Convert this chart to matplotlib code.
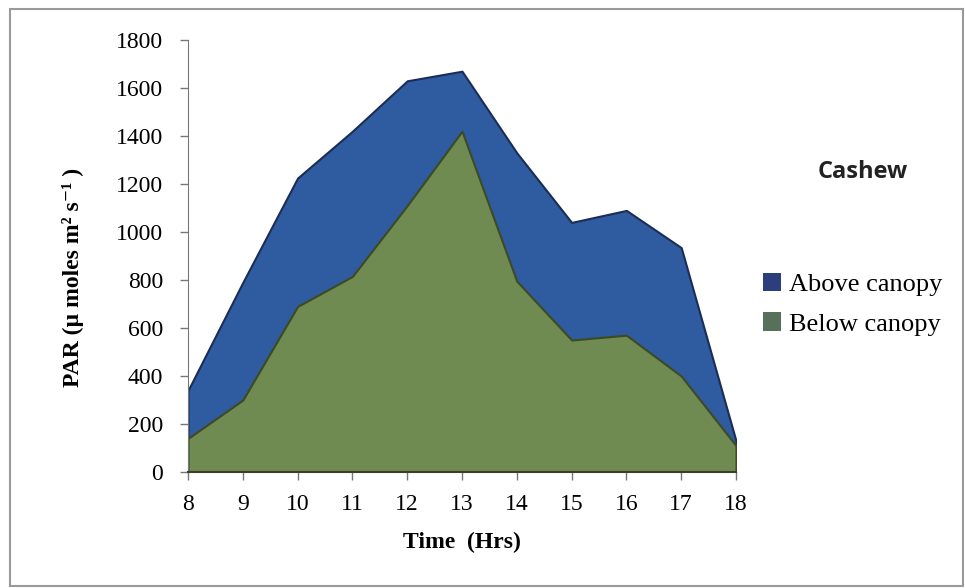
import numpy as np
import matplotlib.pyplot as plt
from matplotlib.patches import Patch, Rectangle

# data
hours = [8, 9, 10, 11, 12, 13, 14, 15, 16, 17, 18]
above = [340, 790, 1225, 1420, 1630, 1670, 1330, 1040, 1090, 935, 130]
below = [140, 300, 690, 815, 1110, 1420, 795, 550, 570, 400, 110]
yticks = [0, 200, 400, 600, 800, 1000, 1200, 1400, 1600, 1800]

blue = '#2f5ba0'
green = '#6f8b52'

plt.rcParams['font.family'] = ['Liberation Serif', 'DejaVu Serif']

fig = plt.figure(figsize=(9.65, 5.88), dpi=100)
W, H = 965, 588
ax = fig.add_axes([188 / W, 1 - 472 / H, (736 - 188) / W, (472 - 40) / H])

ax.fill_between(hours, 0, above, facecolor=blue, edgecolor='#1c2d55', linewidth=1.5, label='Above canopy')
ax.fill_between(hours, 0, below, facecolor=green, edgecolor='#3d4a22', linewidth=1.5, label='Below canopy')

ax.set_xlim(hours[0], hours[-1])
ax.set_ylim(0, 1800)
ax.set_xticks(hours)
ax.set_yticks(yticks)
ax.tick_params(axis='both', labelsize=17, direction='out', length=6, width=1, color='#777777')
ax.tick_params(axis='y', pad=12)
ax.tick_params(axis='x', pad=10)

for s in ['top', 'right']:
    ax.spines[s].set_visible(False)
ax.spines['left'].set_color('#777777')
ax.spines['bottom'].set_color('#3a3f2a')
ax.spines['bottom'].set_linewidth(1.5)

ax.set_xlabel('Time  (Hrs)', fontsize=17, fontweight='bold', labelpad=12)
ax.set_ylabel('PAR (\u00b5 moles m\u00b2 s\u207b\u00b9 )', fontsize=17, fontweight='bold')
ax.yaxis.set_label_coords(-0.19, 0.45)

fig.text(863 / W, 1 - 172 / H, 'Cashew', fontsize=17, fontweight='bold', family='Open Sans',
         ha='center', va='center', color='#222222')

handles = [Patch(facecolor='#2b3f7e', edgecolor='none', label='Above canopy'),
           Patch(facecolor='#56705a', edgecolor='none', label='Below canopy')]
fig.legend(handles=handles, loc='upper left', bbox_to_anchor=(752 / W, 1 - 262 / H),
           frameon=False, fontsize=19, handlelength=0.7, handleheight=0.7,
           handletextpad=0.3, labelspacing=0.62, borderaxespad=0)

# outer frame of the chart area
fig.patches.append(Rectangle((10 / W, 1 - 586 / H), 953 / W, 577 / H, transform=fig.transFigure,
                             fill=False, edgecolor='#9a9a9a', linewidth=1.5))

fig.savefig('out.png', dpi=100)
